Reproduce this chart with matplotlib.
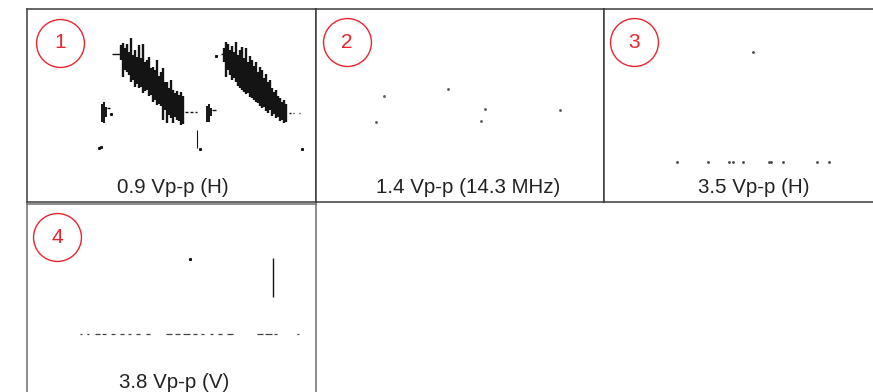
import matplotlib
matplotlib.use("Agg")
import matplotlib.pyplot as plt

plt.rcParams['font.family'] = ['Liberation Sans', 'DejaVu Sans']

# ---------------- data (screen samples, volts) ----------------
panel_numbers = ["1", "2", "3", "4"]
panel_labels = ["0.9 Vp-p (H)", "1.4 Vp-p (14.3 MHz)", "3.5 Vp-p (H)", "3.8 Vp-p (V)"]

# Panel 1: two horizontal-rate bursts (vertical strokes: sample, top volt, bottom volt)
p1_burst1_t = [94, 96, 98, 100, 102, 104, 106, 108, 110, 112, 114, 116, 118, 120, 122, 124,
               126, 128, 130, 132, 134, 136, 138, 140, 142, 144, 146, 148, 150, 152, 154, 156]
p1_burst1_top = [0.57, 0.59, 0.54, 0.58, 0.50, 0.64, 0.47, 0.52, 0.45, 0.57, 0.44, 0.58, 0.40, 0.42, 0.45, 0.34,
                 0.35, 0.32, 0.42, 0.26, 0.30, 0.34, 0.20, 0.20, 0.14, 0.22, 0.12, 0.09, 0.11, 0.07, 0.10, 0.06]
p1_burst1_bot = [0.42, 0.25, 0.32, 0.30, 0.27, 0.20, 0.22, 0.15, 0.18, 0.14, 0.15, 0.09, 0.11, 0.12, 0.06, 0.07,
                 0.00, 0.02, -0.03, -0.02, -0.04, -0.18, -0.08, -0.21, -0.13, -0.16, -0.21, -0.15, -0.18, -0.19, -0.23, -0.22]

p1_burst2_t = [197, 199, 201, 203, 205, 207, 209, 211, 213, 215, 217, 219, 221, 223, 225, 227,
               229, 231, 233, 235, 237, 239, 241, 243, 245, 247, 249, 251, 253, 255, 257, 259]
p1_burst2_top = [0.54, 0.60, 0.58, 0.52, 0.56, 0.50, 0.60, 0.47, 0.52, 0.55, 0.44, 0.54, 0.40, 0.46, 0.42, 0.36,
                 0.40, 0.30, 0.35, 0.32, 0.24, 0.28, 0.20, 0.22, 0.14, 0.10, 0.12, 0.06, 0.04, 0.00, 0.02, -0.02]
p1_burst2_bot = [0.40, 0.25, 0.32, 0.27, 0.22, 0.24, 0.20, 0.16, 0.14, 0.12, 0.10, 0.08, 0.09, 0.05, 0.04, 0.02,
                 0.00, -0.01, -0.04, -0.06, -0.05, -0.09, -0.11, -0.08, -0.14, -0.12, -0.16, -0.15, -0.19, -0.18, -0.21, -0.20]

# Panel 1: small sync pulses (vertical strokes)
p1_pulse_t = [75, 77, 79, 180, 182, 184]
p1_pulse_top = [-0.02, 0.00, -0.05, -0.04, -0.02, -0.06]
p1_pulse_bot = [-0.20, -0.21, -0.15, -0.20, -0.20, -0.14]

# Panel 1: thin vertical glitch
p1_glitch_t = [170]
p1_glitch_top = [-0.28]
p1_glitch_bot = [-0.46]

# Panel 1: short horizontal trace fragments (start, end, volt)
p1_dash_t0 = [85, 194, 158, 163, 168, 262, 266, 272, 80, 185]
p1_dash_t1 = [93, 198, 161, 166, 170, 264, 267, 273, 83, 189]
p1_dash_v = [0.48, 0.48, -0.10, -0.10, -0.10, -0.11, -0.11, -0.11, -0.06, -0.08]

# Panel 1: isolated dots
p1_dot_t = [72, 74, 173, 275, 189, 84]
p1_dot_v = [-0.46, -0.45, -0.47, -0.47, 0.46, -0.12]

# Panel 2: isolated dots
p2_dot_t = [68, 132, 60, 169, 165, 244]
p2_dot_v = [0.06, 0.13, -0.20, -0.07, -0.19, -0.08]

# Panel 3: isolated dots
p3_dot_t = [149, 73, 104, 125, 129, 139, 165, 167, 179, 213, 225]
p3_dot_v = [0.50, -0.60, -0.60, -0.60, -0.60, -0.60, -0.60, -0.60, -0.60, -0.60, -0.60]

# Panel 4: baseline fragments, dot and a vertical spike
p4_dash_t0 = [53, 60, 68, 75, 84, 93, 101, 109, 119, 139, 148, 156, 166, 174, 183, 191, 200, 230, 238, 247, 270]
p4_dash_t1 = [55, 62, 73, 79, 88, 97, 104, 113, 123, 145, 153, 163, 170, 177, 186, 195, 206, 236, 245, 250, 272]
p4_dash_v = [-0.37] * 21
p4_dot_t = [163]
p4_dot_v = [0.38]
p4_spike_t = [246]
p4_spike_top = [0.39]
p4_spike_bot = [0.00]

# ---------------- layout ----------------
W, H = 873, 392
fig = plt.figure(figsize=(W / 100, H / 100), dpi=100)
fig.patch.set_facecolor('white')

# (left, top, width, height) in pixels, spine colour
panel_boxes = [(27, 9, 289, 193, '#3c3c3c'),
               (316, 9, 288, 193, '#3c3c3c'),
               (604, 9, 288, 193, '#3c3c3c'),
               (27, 204, 289, 193, '#6e6e6e')]
label_x = [0.505, 0.527, 0.519, 0.509]
circle_pos = [(0.114, 0.824), (0.108, 0.829), (0.104, 0.829), (0.104, 0.829)]

axes = []
for i, (l, t, w, h, sc) in enumerate(panel_boxes):
    ax = fig.add_axes([l / W, 1 - (t + h) / H, w / W, h / H])
    ax.set_xlim(0, w)
    ax.set_ylim(-1.0, 0.93)
    ax.set_xticks([])
    ax.set_yticks([])
    for sp in ax.spines.values():
        sp.set_color(sc)
        sp.set_linewidth(1.1)
    # circled number
    cx, cy = circle_pos[i]
    ax.plot([cx], [cy], marker='o', ms=34.5, mfc='none', mec='#e8242f', mew=1.0,
            transform=ax.transAxes, clip_on=False)
    ax.text(cx, cy, panel_numbers[i], color='#e8242f', fontsize=15,
            ha='center', va='center', transform=ax.transAxes)
    ax.text(label_x[i], 0.073, panel_labels[i], color='#222222', fontsize=14.8,
            ha='center', va='center', transform=ax.transAxes)
    axes.append(ax)

ink = '#141414'
ax1, ax2, ax3, ax4 = axes

ax1.vlines(p1_burst1_t, p1_burst1_bot, p1_burst1_top, color=ink, lw=1.7)
ax1.vlines(p1_burst2_t, p1_burst2_bot, p1_burst2_top, color=ink, lw=1.7)
ax1.vlines(p1_pulse_t, p1_pulse_bot, p1_pulse_top, color=ink, lw=1.4)
ax1.vlines(p1_glitch_t, p1_glitch_bot, p1_glitch_top, color=ink, lw=0.8)
ax1.hlines(p1_dash_v, p1_dash_t0, p1_dash_t1, color=ink, lw=1.0)
ax1.plot(p1_dot_t, p1_dot_v, ls='none', marker='s', ms=1.2, color=ink)

ax2.plot(p2_dot_t, p2_dot_v, ls='none', marker='s', ms=0.9, color='#555555')

ax3.plot(p3_dot_t, p3_dot_v, ls='none', marker='s', ms=0.9, color='#444444')

ax4.hlines(p4_dash_v, p4_dash_t0, p4_dash_t1, color='#444444', lw=0.9)
ax4.plot(p4_dot_t, p4_dot_v, ls='none', marker='s', ms=1.2, color=ink)
ax4.vlines(p4_spike_t, p4_spike_bot, p4_spike_top, color=ink, lw=1.0)

fig.savefig('out.png', dpi=100)
